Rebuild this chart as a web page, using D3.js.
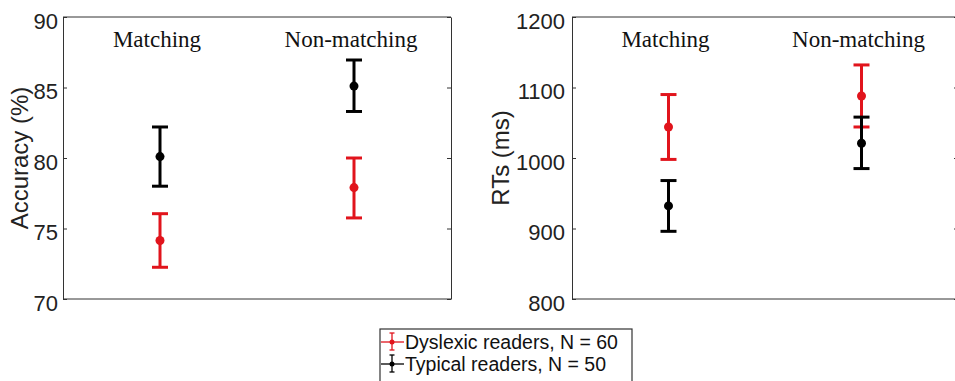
<!DOCTYPE html>
<html>
<head>
<meta charset="utf-8">
<script src="https://cdn.jsdelivr.net/npm/d3@7"></script>
<style>
    body { margin: 0; background: #fff; }
    .axis text { font-family: "Liberation Sans", Arial, sans-serif; font-size: 22px; fill: #222; }
    .axis path, .axis line { stroke: #333; }
</style>
</head>
<body>
<svg id="chart" width="955" height="381"></svg>
<script>
let categories = ["Matching", "Non-matching"]

let accDysMean = [74.15, 77.9]
let accDysLow = [72.25, 75.75]
let accDysHigh = [76.05, 80.0]
let accTypMean = [80.1, 85.1]
let accTypLow = [78.0, 83.3]
let accTypHigh = [82.2, 86.95]

let rtDysMean = [1044, 1088]
let rtDysLow = [998, 1044]
let rtDysHigh = [1090, 1132]
let rtTypMean = [932, 1021]
let rtTypLow = [896, 985]
let rtTypHigh = [968, 1058]

let accTicks = [70, 75, 80, 85, 90]
let rtTicks = [800, 900, 1000, 1100, 1200]

let legendLabels = ["Dyslexic readers, N = 60", "Typical readers, N = 50"]

let red = "#e1141c"
let black = "#000000"

let svg = d3.select("#chart")

function rows(mean, low, high) {
    return categories.map((c, i) => ({cat: c, mean: mean[i], low: low[i], high: high[i]}))
}

function panel(opts) {
    let g = svg.append("g")
    let xScale = d3.scalePoint().domain(categories).range([opts.left, opts.right]).padding(0.5)
    let yScale = d3.scaleLinear().domain(opts.domain).range([opts.bottom, opts.top])

    g.append("g")
        .attr("class", "axis")
        .attr("transform", "translate(" + opts.left + ",0)")
        .call(d3.axisLeft(yScale).tickValues(opts.ticks).tickFormat(d3.format("d"))
            .tickSizeInner(-4).tickSizeOuter(0).tickPadding(opts.pad))
        .selectAll("text").attr("dy", "0.5em")

    g.append("g")
        .attr("class", "axis")
        .attr("transform", "translate(" + opts.right + ",0)")
        .call(d3.axisRight(yScale).tickValues(opts.ticks).tickSizeInner(-4).tickSizeOuter(0).tickFormat(""))

    g.append("line")
        .attr("x1", opts.left).attr("x2", opts.right)
        .attr("y1", opts.top).attr("y2", opts.top)
        .attr("stroke", "#333")
    g.append("line")
        .attr("x1", opts.left).attr("x2", opts.right)
        .attr("y1", opts.bottom).attr("y2", opts.bottom)
        .attr("stroke", "#333")

    g.selectAll(".cat")
        .data(categories)
        .enter()
        .append("text")
        .attr("x", d => xScale(d) - 3)
        .attr("y", opts.top + 30)
        .attr("text-anchor", "middle")
        .attr("font-family", "'Liberation Serif', 'Times New Roman', serif")
        .attr("font-size", 23)
        .attr("fill", "#111")
        .text(d => d)

    g.append("text")
        .text(opts.label)
        .attr("font-family", "'Liberation Sans', Arial, sans-serif")
        .attr("font-size", 24)
        .attr("fill", "#222")
        .attr("text-anchor", "middle")
        .attr("transform", "translate(" + opts.labelX + "," + ((opts.top + opts.bottom) / 2) + "), rotate(-90)")

    opts.series.forEach(function(s) {
        let sg = g.append("g")
        let d = rows(s.mean, s.low, s.high)
        sg.selectAll(".stem").data(d).enter().append("line")
            .attr("x1", r => xScale(r.cat)).attr("x2", r => xScale(r.cat))
            .attr("y1", r => yScale(r.low)).attr("y2", r => yScale(r.high))
            .attr("stroke", s.color).attr("stroke-width", 3)
        sg.selectAll(".capLow").data(d).enter().append("line")
            .attr("x1", r => xScale(r.cat) - 8).attr("x2", r => xScale(r.cat) + 8)
            .attr("y1", r => yScale(r.low)).attr("y2", r => yScale(r.low))
            .attr("stroke", s.color).attr("stroke-width", 3)
        sg.selectAll(".capHigh").data(d).enter().append("line")
            .attr("x1", r => xScale(r.cat) - 8).attr("x2", r => xScale(r.cat) + 8)
            .attr("y1", r => yScale(r.high)).attr("y2", r => yScale(r.high))
            .attr("stroke", s.color).attr("stroke-width", 3)
        sg.selectAll("circle").data(d).enter().append("circle")
            .attr("cx", r => xScale(r.cat)).attr("cy", r => yScale(r.mean))
            .attr("r", 4.5)
            .attr("fill", s.color)
    })
}

panel({
    left: 63, right: 451, top: 17, bottom: 299,
    domain: [70, 90], ticks: accTicks, pad: 5,
    label: "Accuracy (%)", labelX: 28,
    series: [
        {color: red, mean: accDysMean, low: accDysLow, high: accDysHigh},
        {color: black, mean: accTypMean, low: accTypLow, high: accTypHigh}
    ]
})

panel({
    left: 572, right: 958, top: 17, bottom: 299,
    domain: [800, 1200], ticks: rtTicks, pad: 7,
    label: "RTs (ms)", labelX: 509,
    series: [
        {color: red, mean: rtDysMean, low: rtDysLow, high: rtDysHigh},
        {color: black, mean: rtTypMean, low: rtTypLow, high: rtTypHigh}
    ]
})

// legend
let legend = svg.append("g").attr("transform", "translate(380,329)")
legend.append("rect")
    .attr("width", 252).attr("height", 60)
    .attr("fill", "#fff").attr("stroke", "#333").attr("stroke-width", 1.2)

let legendColors = [red, black]
let item = legend.selectAll(".item")
    .data(legendLabels)
    .enter()
    .append("g")
    .attr("transform", (d, i) => "translate(0," + (13 + i * 22) + ")")

item.append("line")
    .attr("x1", 1).attr("x2", 24).attr("y1", 0).attr("y2", 0)
    .attr("stroke", (d, i) => legendColors[i]).attr("stroke-width", 1.3)
item.append("line")
    .attr("x1", 12).attr("x2", 12).attr("y1", -9).attr("y2", 8)
    .attr("stroke", (d, i) => legendColors[i]).attr("stroke-width", 1.3)
item.append("line")
    .attr("x1", 9.5).attr("x2", 14.5).attr("y1", -9).attr("y2", -9)
    .attr("stroke", (d, i) => legendColors[i]).attr("stroke-width", 1.3)
item.append("line")
    .attr("x1", 9.5).attr("x2", 14.5).attr("y1", 8).attr("y2", 8)
    .attr("stroke", (d, i) => legendColors[i]).attr("stroke-width", 1.3)
item.append("circle")
    .attr("cx", 12).attr("cy", 0).attr("r", 2.5)
    .attr("fill", (d, i) => legendColors[i])
item.append("text")
    .text(d => d)
    .attr("x", 25).attr("y", 7)
    .attr("font-family", "'Liberation Sans', Arial, sans-serif")
    .attr("font-size", 19.5)
    .attr("fill", "#111")
</script>
</body>
</html>
